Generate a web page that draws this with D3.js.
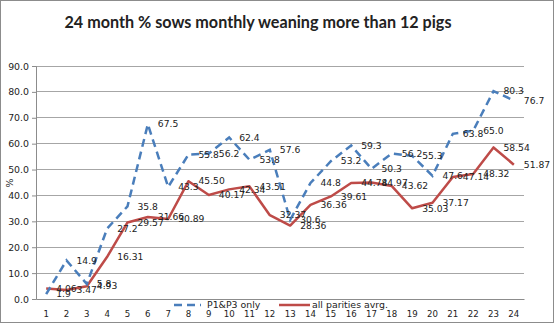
<!DOCTYPE html>
<html>
<head>
<meta charset="utf-8">
<script src="https://cdn.jsdelivr.net/npm/d3@7"></script>
<style>
  html, body { margin: 0; padding: 0; background: #fff; }
  svg { display: block; }
  text { font-family: "DejaVu Sans", Verdana, sans-serif; fill: #222; }
</style>
</head>
<body>
<svg id="chart" width="560" height="326"></svg>
<script>
const titleText = "24 month % sows monthly weaning more than 12 pigs";
const months = d3.range(1, 25);
const p1p3 = [1.9, 14.9, 5.8, 27.2, 35.8, 67.5, 43.3, 55.8, 56.2, 62.4, 53.8, 57.6,
              30.6, 44.8, 53.2, 59.3, 50.3, 56.2, 55.3, 47.6, 63.8, 65.0, 80.3, 76.7];
const allParities = [4.06, 3.47, 4.93, 16.31, 29.57, 31.66, 30.89, 45.50, 40.17, 42.34, 43.51, 32.37,
                     28.36, 36.36, 39.61, 44.78, 44.97, 43.62, 35.03, 37.17, 47.14, 48.32, 58.54, 51.87];
const p1p3Labels = ["1.9","14.9","5.8","27.2","35.8","67.5","43.3","55.8","56.2","62.4","53.8","57.6",
                    "30.6","44.8","53.2","59.3","50.3","56.2","55.3","47.6","63.8","65.0","80.3","76.7"];
const allLabels = ["4.06","3.47","4.93","16.31","29.57","31.66","30.89","45.50","40.17","42.34","43.51","32.37",
                   "28.36","36.36","39.61","44.78","44.97","43.62","35.03","37.17","47.14","48.32","58.54","51.87"];
const yTicks = [0, 10, 20, 30, 40, 50, 60, 70, 80, 90];
const seriesNames = ["P1&P3 only", "all parities avrg."];

const svg = d3.select("#chart");
const mLeft = 36, mRight = 524, mTop = 66, mBottom = 299;

// chart border
svg.append("rect").attr("x", 0.5).attr("y", 0.5).attr("width", 553).attr("height", 322)
  .attr("fill", "#fff").attr("stroke", "#8c8c8c");

// title
svg.append("text").attr("x", 258).attr("y", 28).attr("text-anchor", "middle")
  .style("font-family", "Lato, 'Open Sans', sans-serif").style("font-weight", "bold")
  .style("font-size", "17px").attr("textLength", 387).attr("lengthAdjust", "spacingAndGlyphs")
  .text(titleText);

const x = d3.scaleBand().domain(months).range([mLeft, mRight]);
const y = d3.scaleLinear().domain([0, 90]).range([mBottom, mTop]);
const cx = d => x(d) + x.bandwidth() / 2;

// gridlines
svg.append("g").selectAll("line").data(yTicks.filter(t => t > 0)).join("line")
  .attr("x1", mLeft).attr("x2", mRight).attr("y1", d => y(d)).attr("y2", d => y(d))
  .attr("stroke", "#a6a6a6").attr("stroke-width", 1).attr("shape-rendering", "crispEdges");

// y axis
const yAxis = svg.append("g").attr("transform", `translate(${mLeft},0)`)
  .call(d3.axisLeft(y).tickValues(yTicks).tickFormat(d3.format(".1f")).tickSize(4).tickPadding(3));
yAxis.select(".domain").attr("stroke", "#8c8c8c");
yAxis.selectAll(".tick line").attr("stroke", "#8c8c8c");
yAxis.selectAll("text").style("font-size", "9.4px").style("fill", "#222");

// x axis
const xAxis = svg.append("g").attr("transform", `translate(0,${mBottom})`)
  .call(d3.axisBottom(x).tickSize(0).tickPadding(12));
xAxis.select(".domain").attr("stroke", "#8c8c8c");
xAxis.selectAll("text").style("font-size", "8.6px").style("fill", "#222");

// y label
svg.append("text").attr("transform", "translate(13,183) rotate(-90)").attr("text-anchor", "middle")
  .style("font-size", "9.5px").text("%");

// lines
const line = d3.line().x((d, i) => cx(months[i])).y(d => y(d));
svg.append("path").datum(allParities).attr("d", line).attr("fill", "none")
  .attr("stroke", "#be4b48").attr("stroke-width", 2.5).attr("stroke-linejoin", "round");
svg.append("path").datum(p1p3).attr("d", line).attr("fill", "none")
  .attr("stroke", "#4a7ebb").attr("stroke-width", 2.5).attr("stroke-dasharray", "8,5");

// data labels
function labels(vals, texts) {
  svg.append("g").selectAll("text").data(vals).join("text")
    .attr("x", (d, i) => cx(months[i]) + 10).attr("y", d => y(d))
    .attr("dy", "0.35em").style("font-size", "9.2px").text((d, i) => texts[i]);
}
labels(p1p3, p1p3Labels);
labels(allParities, allLabels);

// legend
const lg = svg.append("g");
lg.append("line").attr("x1", 174).attr("x2", 201).attr("y1", 305).attr("y2", 305)
  .attr("stroke", "#4a7ebb").attr("stroke-width", 2.5).attr("stroke-dasharray", "8,5");
lg.append("text").attr("x", 207).attr("y", 305).attr("dy", "0.35em").style("font-size", "9.4px").text(seriesNames[0]);
lg.append("line").attr("x1", 279).attr("x2", 310).attr("y1", 305).attr("y2", 305)
  .attr("stroke", "#be4b48").attr("stroke-width", 2.5);
lg.append("text").attr("x", 312).attr("y", 305).attr("dy", "0.35em").style("font-size", "9.4px").text(seriesNames[1]);
</script>
</body>
</html>
